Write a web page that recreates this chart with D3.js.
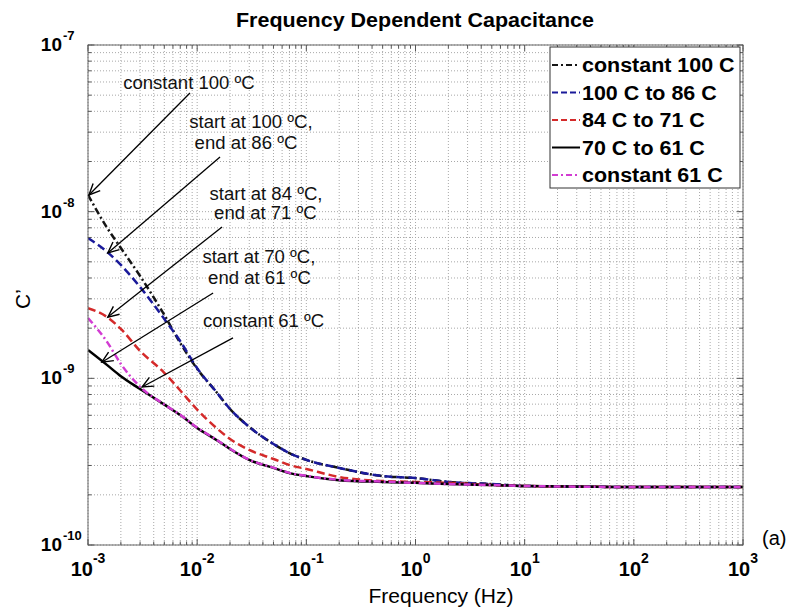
<!DOCTYPE html>
<html><head><meta charset="utf-8">
<script src="https://cdn.jsdelivr.net/npm/d3@7"></script>
<style>body{margin:0;background:#fff}svg{display:block}</style>
</head><body>
<svg id="chart" width="788" height="608"></svg>
<script>
// ---------- data ----------
const freq = [1e-3,1.5e-3,2e-3,3e-3,5e-3,7e-3,1e-2,1.5e-2,2e-2,3e-2,5e-2,7e-2,0.1,0.2,0.5,1,2,5,10,100,1000];
const const100 = [1.26e-8,7.98e-9,6.05e-9,4.11e-9,2.40e-9,1.63e-9,1.14e-9,8.28e-10,6.55e-10,5.11e-10,4.04e-10,3.56e-10,3.24e-10,2.90e-10,2.59e-10,2.52e-10,2.39e-10,2.32e-10,2.26e-10,2.23e-10,2.23e-10];
const from100to86 = [6.95e-9,5.73e-9,4.79e-9,3.53e-9,2.27e-9,1.67e-9,1.15e-9,8.28e-10,6.55e-10,5.11e-10,4.04e-10,3.56e-10,3.24e-10,2.90e-10,2.59e-10,2.52e-10,2.39e-10,2.32e-10,2.26e-10,2.23e-10,2.23e-10];
const from84to71 = [2.64e-9,2.33e-9,1.98e-9,1.46e-9,1.08e-9,8.45e-10,6.50e-10,5.04e-10,4.33e-10,3.72e-10,3.28e-10,3.02e-10,2.86e-10,2.56e-10,2.42e-10,2.39e-10,2.36e-10,2.29e-10,2.26e-10,2.23e-10,2.23e-10];
const from70to61 = [1.48e-9,1.20e-9,1.03e-9,8.63e-10,6.95e-10,6.02e-10,5.04e-10,4.27e-10,3.77e-10,3.24e-10,2.90e-10,2.70e-10,2.59e-10,2.45e-10,2.39e-10,2.36e-10,2.32e-10,2.29e-10,2.26e-10,2.23e-10,2.23e-10];
const const61 = [2.30e-9,1.65e-9,1.22e-9,8.90e-10,6.97e-10,6.04e-10,5.06e-10,4.29e-10,3.78e-10,3.25e-10,2.91e-10,2.71e-10,2.60e-10,2.46e-10,2.40e-10,2.36e-10,2.32e-10,2.29e-10,2.26e-10,2.23e-10,2.23e-10];
const seriesNames = ["constant 100 C","100 C to 86 C","84 C to 71 C","70 C to 61 C","constant 61 C"];
const seriesValues = [const100, from100to86, from84to71, from70to61, const61];
const xTickExponents = [-3,-2,-1,0,1,2,3];
const yTickExponents = [-10,-9,-8,-7];
// annotations in data space: text lines (freq, C of baseline/centre), arrow tail and tip
const annotations = [
  {lines:[["constant 100 ºC",8.41e-3,5.45e-8]], from:[8.59e-3,5.15e-8], to:[1.02e-3,1.26e-8]},
  {lines:[["start at 100 ºC,",3.11e-2,3.18e-8],["end at 86 ºC",2.80e-2,2.38e-8]], from:[1.62e-2,2.13e-8], to:[1.52e-3,5.65e-9]},
  {lines:[["start at 84 ºC,",4.27e-2,1.175e-8],["end at 71 ºC",4.22e-2,9.04e-9]], from:[1.69e-2,8.09e-9], to:[1.52e-3,2.33e-9]},
  {lines:[["start at 70 ºC,",3.68e-2,4.92e-9],["end at 61 ºC",3.72e-2,3.68e-9]], from:[1.40e-2,3.25e-9], to:[1.34e-3,1.25e-9]},
  {lines:[["constant 61 ºC",4.06e-2,2.03e-9]], from:[2.13e-2,1.75e-9], to:[3.13e-3,8.87e-10]}
];

// ---------- styles ----------
const styles = [
  {color:"#151515", dash:"7,3,2,3", ldash:"6,3,2,3"},
  {color:"#1a1a9a", dash:"8,4", ldash:"6,3"},
  {color:"#d42a2a", dash:"8,4", ldash:"6,3"},
  {color:"#000000", dash:null, ldash:null},
  {color:"#d23cd2", dash:"7,3,2,3", ldash:"6,3,2,3"}
];
const L = 88, R = 743, T = 45, B = 545;
const svg = d3.select("#chart");
const x = d3.scaleLog().domain([1e-3,1e3]).range([L,R]);
const y = d3.scaleLog().domain([1e-10,1e-7]).range([B,T]);
const isMajor = v => Math.abs(Math.log10(v) - Math.round(Math.log10(v))) < 1e-9;

svg.append("rect").attr("width",788).attr("height",608).attr("fill","#fff");

// grid
const g = svg.append("g");
x.ticks().forEach(v => {
  g.append("line").attr("x1",x(v)).attr("x2",x(v)).attr("y1",T).attr("y2",B)
   .attr("stroke","#a8a8a8").attr("stroke-width",1).attr("stroke-dasharray","1,2");
});
y.ticks().forEach(v => {
  g.append("line").attr("y1",y(v)).attr("y2",y(v)).attr("x1",L).attr("x2",R)
   .attr("stroke","#a8a8a8").attr("stroke-width",1).attr("stroke-dasharray","1,2");
});

// curves
svg.append("clipPath").attr("id","clip").append("rect")
  .attr("x",L).attr("y",T).attr("width",R-L).attr("height",B-T);
const line = d3.line().x(d=>x(d[0])).y(d=>y(d[1])).curve(d3.curveMonotoneX);
seriesValues.forEach((vals,i) => {
  svg.append("path").attr("clip-path","url(#clip)")
    .attr("d", line(freq.map((f,k)=>[f,vals[k]])))
    .attr("fill","none").attr("stroke",styles[i].color).attr("stroke-width",2.5)
    .attr("stroke-dasharray",styles[i].dash);
});

// box + ticks
svg.append("rect").attr("x",L).attr("y",T).attr("width",R-L).attr("height",B-T)
  .attr("fill","none").attr("stroke","#666").attr("stroke-width",1);
x.ticks().forEach(v => {
  const len = isMajor(v) ? 6 : 3.5;
  [[B,-1],[T,1]].forEach(([yy,s]) => svg.append("line").attr("x1",x(v)).attr("x2",x(v))
    .attr("y1",yy).attr("y2",yy+s*len).attr("stroke","#555"));
});
y.ticks().forEach(v => {
  const len = isMajor(v) ? 6 : 3.5;
  [[L,1],[R,-1]].forEach(([xx,s]) => svg.append("line").attr("y1",y(v)).attr("y2",y(v))
    .attr("x1",xx).attr("x2",xx+s*len).attr("stroke","#555"));
});

const font = "Liberation Sans, Arial, Helvetica, sans-serif";
// x tick labels
xTickExponents.forEach(e => {
  const t = svg.append("text").attr("x",x(Math.pow(10,e))).attr("y",576)
    .attr("text-anchor","middle").attr("font-family",font).attr("font-weight","bold").attr("fill","#000");
  t.append("tspan").attr("font-size",20).text("10");
  t.append("tspan").attr("font-size",14).attr("dy",-13).text(String(e));
});
// y tick labels
yTickExponents.forEach(e => {
  const yy = y(Math.pow(10,e));
  svg.append("text").attr("x",62).attr("y",yy+6).attr("text-anchor","end")
    .attr("font-family",font).attr("font-weight","bold").attr("font-size",19).text("10");
  svg.append("text").attr("x",63).attr("y",yy-5)
    .attr("font-family",font).attr("font-weight","bold").attr("font-size",13).text(String(e));
});

// title and axis labels
svg.append("text").attr("x",415).attr("y",27).attr("text-anchor","middle")
  .attr("font-family",font).attr("font-weight","bold").attr("font-size",21)
  .attr("textLength",358).attr("lengthAdjust","spacingAndGlyphs")
  .text("Frequency Dependent Capacitance");
svg.append("text").attr("x",441).attr("y",603).attr("text-anchor","middle")
  .attr("font-family",font).attr("font-size",20)
  .attr("textLength",145).attr("lengthAdjust","spacingAndGlyphs").text("Frequency (Hz)");
svg.append("text").attr("transform","translate(30,299) rotate(-90)").attr("text-anchor","middle")
  .attr("font-family",font).attr("font-size",21).text("C’");
svg.append("text").attr("x",762).attr("y",545).attr("font-family",font).attr("font-size",20).text("(a)");

// stretch helper
function stretch(sel, k){
  sel.each(function(){
    const w = this.getComputedTextLength();
    d3.select(this).attr("textLength", w*k).attr("lengthAdjust","spacingAndGlyphs");
  });
}

// annotations
const defs = svg.append("defs");
defs.append("marker").attr("id","arr").attr("markerUnits","userSpaceOnUse")
  .attr("viewBox","-13 -7 15 14").attr("refX",0).attr("refY",0)
  .attr("markerWidth",15).attr("markerHeight",14).attr("orient","auto")
  .append("path").attr("d","M-11,-5 L0,0 L-11,5").attr("fill","none")
  .attr("stroke","#000").attr("stroke-width",1.4);
annotations.forEach(a => {
  svg.append("line").attr("x1",x(a.from[0])).attr("y1",y(a.from[1]))
    .attr("x2",x(a.to[0])).attr("y2",y(a.to[1]))
    .attr("stroke","#000").attr("stroke-width",1.3).attr("marker-end","url(#arr)");
  a.lines.forEach(([txt,f,c]) => {
    const t = svg.append("text").attr("x",x(f)).attr("y",y(c)).attr("text-anchor","middle")
      .attr("font-family",font).attr("font-size",17.5).attr("fill","#111").text(txt);
    stretch(t, 1.06);
  });
});

// legend
svg.append("rect").attr("x",550).attr("y",47).attr("width",190).attr("height",141)
  .attr("fill","#fff").attr("stroke","#333").attr("stroke-width",1);
seriesNames.forEach((name,i) => {
  const base = 72 + i*27.5;
  svg.append("line").attr("x1",552).attr("x2",580).attr("y1",base-7).attr("y2",base-7)
    .attr("stroke",styles[i].color).attr("stroke-width",2).attr("stroke-dasharray",styles[i].ldash);
  const t = svg.append("text").attr("x",582).attr("y",base)
    .attr("font-family",font).attr("font-weight","bold").attr("font-size",19.5).text(name);
  stretch(t, 1.1);
});
</script>
</body></html>
